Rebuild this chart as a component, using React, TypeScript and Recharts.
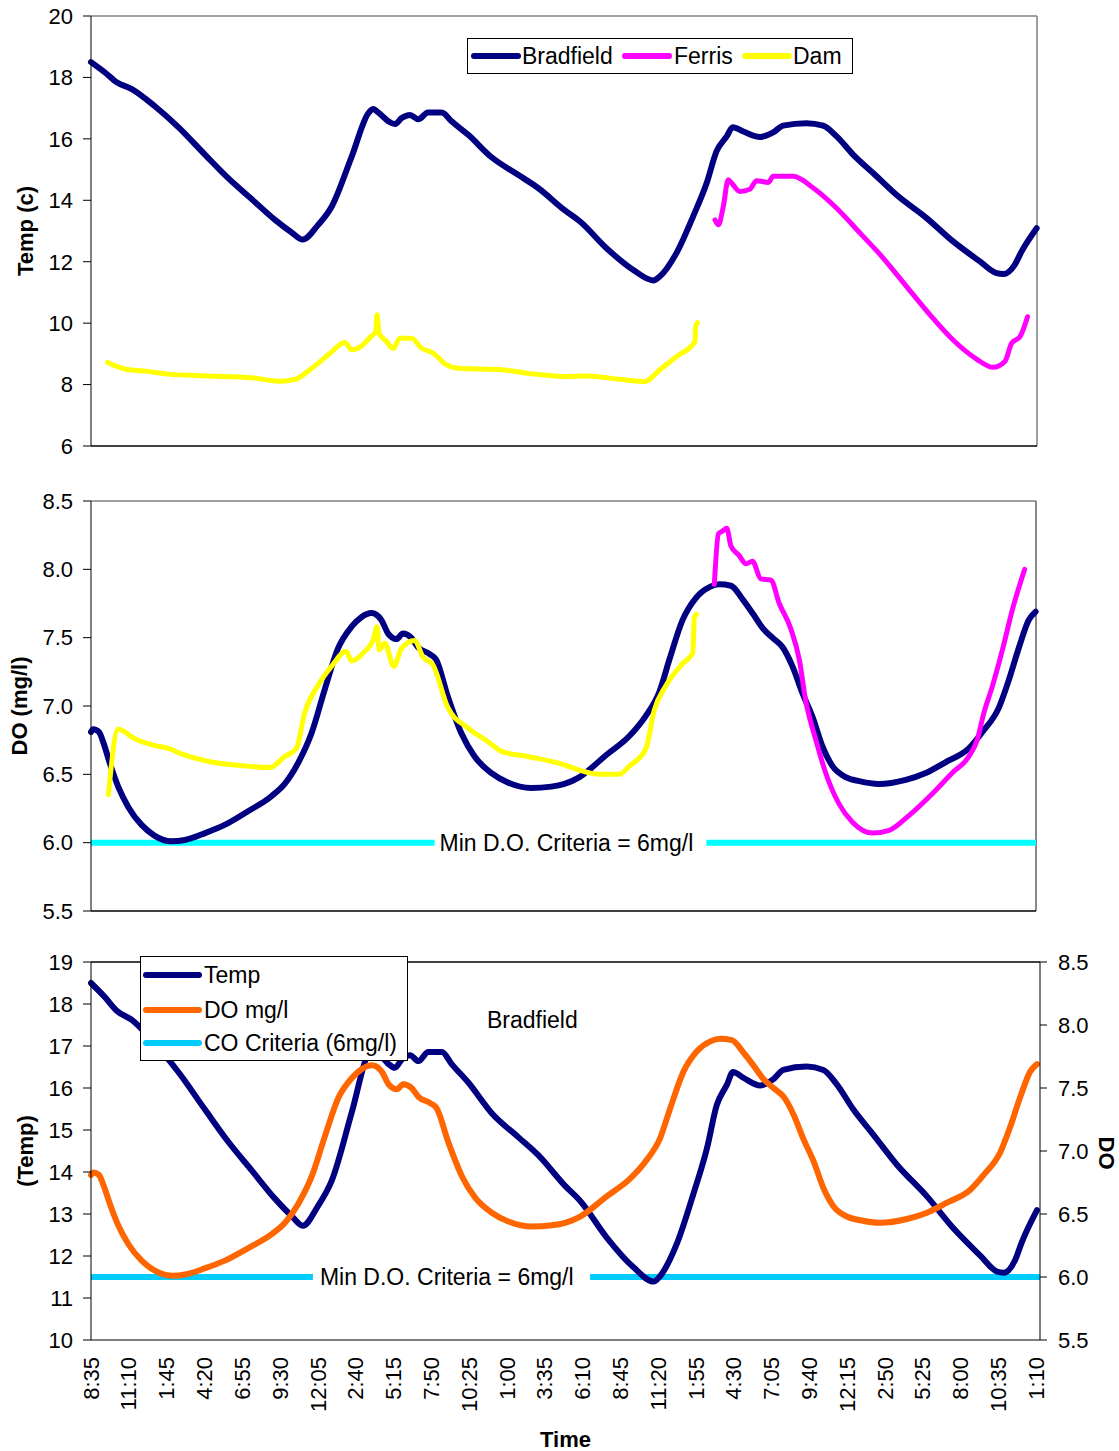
import React from "react"
import { LineChart, Line, XAxis, YAxis, ReferenceLine } from "recharts"

const FONT = '"Liberation Sans", Arial, sans-serif'

// x = number of 155-minute label steps after the first reading (8:35)
const timeLabels = [
  "8:35", "11:10", "1:45", "4:20", "6:55", "9:30", "12:05", "2:40", "5:15",
  "7:50", "10:25", "1:00", "3:35", "6:10", "8:45", "11:20", "1:55", "4:30",
  "7:05", "9:40", "12:15", "2:50", "5:25", "8:00", "10:35", "1:10",
]

const tempTicks = [6, 8, 10, 12, 14, 16, 18, 20]
const doTicks = [5.5, 6, 6.5, 7, 7.5, 8, 8.5]
const bradfieldTempTicks = [10, 11, 12, 13, 14, 15, 16, 17, 18, 19]
const minDO = 6

// temperature (c)
const bradfieldTemp: [number, number][] = [
  [0, 18.5], [0.37, 18.16], [0.68, 17.84], [1.08, 17.62], [1.69, 17.06],
  [2.31, 16.38], [3.02, 15.48], [3.63, 14.72], [4.25, 14.04], [4.87, 13.36],
  [5.31, 12.95], [5.6, 12.72], [6.01, 13.2], [6.37, 13.8], [6.9, 15.43],
  [7.34, 16.84], [7.47, 16.97], [7.6, 16.86], [7.87, 16.57], [8.04, 16.48],
  [8.22, 16.68], [8.44, 16.78], [8.66, 16.64], [8.92, 16.86], [9.28, 16.86],
  [9.54, 16.57], [9.98, 16.13], [10.6, 15.4], [11.3, 14.83], [11.83, 14.4],
  [12.54, 13.67], [12.94, 13.31], [13.64, 12.44], [14.35, 11.73], [14.88, 11.39],
  [15.05, 11.52], [15.49, 12.28], [15.93, 13.47], [16.29, 14.56], [16.55, 15.59],
  [16.82, 16.08], [16.98, 16.38], [17.26, 16.24], [17.7, 16.06], [18.05, 16.21],
  [18.31, 16.43], [18.93, 16.51], [19.37, 16.43], [19.73, 16.08], [20.17, 15.48],
  [20.7, 14.88], [21.31, 14.18], [22.11, 13.42], [22.81, 12.66], [23.52, 12.01],
  [23.96, 11.63], [24.14, 11.6], [24.44, 11.9], [24.62, 12.33], [25.02, 13.09],
]

const ferrisTemp: [number, number][] = [
  [16.51, 13.36], [16.6, 13.2], [16.73, 13.8], [16.86, 14.67], [16.95, 14.56],
  [17.17, 14.29], [17.43, 14.36], [17.61, 14.64], [17.92, 14.58], [18.05, 14.78],
  [18.58, 14.78], [19.11, 14.4], [19.73, 13.74], [20.35, 12.93], [20.96, 12.12],
  [21.58, 11.19], [22.2, 10.27], [22.81, 9.45], [23.43, 8.83], [23.87, 8.56],
  [24.18, 8.75], [24.36, 9.35], [24.58, 9.56], [24.78, 10.21],
]

const damTemp: [number, number][] = [
  [0.44, 8.72], [0.99, 8.48], [1.34, 8.45], [2.05, 8.34], [3.1, 8.28],
  [4.25, 8.22], [5.0, 8.11], [5.4, 8.17], [5.84, 8.53], [6.28, 8.97],
  [6.72, 9.37], [6.9, 9.13], [7.16, 9.26], [7.43, 9.59], [7.53, 9.69],
  [7.57, 10.27], [7.62, 9.69], [7.82, 9.4], [8.0, 9.18], [8.17, 9.51],
  [8.48, 9.51], [8.75, 9.18], [9.06, 9.02], [9.37, 8.67], [9.72, 8.53],
  [10.86, 8.48], [11.75, 8.34], [12.54, 8.26], [13.11, 8.28], [13.99, 8.17],
  [14.66, 8.1], [15.05, 8.48], [15.49, 8.91], [15.98, 9.4], [16.0, 9.89],
  [16.05, 10.02],
]

// dissolved oxygen (mg/l)
const bradfieldDO: [number, number][] = [
  [0, 6.81], [0.06, 6.83], [0.21, 6.81], [0.33, 6.73], [0.5, 6.58],
  [0.72, 6.41], [0.99, 6.26], [1.34, 6.13], [1.69, 6.05], [2.13, 6.01],
  [2.49, 6.02], [3.02, 6.07], [3.54, 6.13], [4.16, 6.23], [4.78, 6.34],
  [5.13, 6.43], [5.48, 6.58], [5.84, 6.8], [6.19, 7.12], [6.54, 7.42],
  [6.9, 7.58], [7.16, 7.65], [7.43, 7.68], [7.69, 7.63], [7.87, 7.53],
  [8.09, 7.49], [8.26, 7.53], [8.48, 7.5], [8.66, 7.43], [8.97, 7.38],
  [9.14, 7.34], [9.45, 7.07], [9.81, 6.8], [10.16, 6.63], [10.6, 6.51],
  [11.04, 6.44], [11.66, 6.4], [12.19, 6.41], [12.54, 6.43], [12.94, 6.48],
  [13.64, 6.64], [14.26, 6.78], [14.7, 6.93], [15.05, 7.1], [15.32, 7.34],
  [15.67, 7.63], [16.02, 7.79], [16.38, 7.87], [16.64, 7.89], [16.95, 7.88],
  [17.26, 7.78], [17.52, 7.68], [17.79, 7.57], [18.05, 7.5], [18.32, 7.43],
  [18.58, 7.29], [18.85, 7.09], [19.11, 6.92], [19.38, 6.7], [19.64, 6.56],
  [19.99, 6.48], [20.35, 6.45], [20.87, 6.43], [21.58, 6.46], [22.11, 6.51],
  [22.64, 6.59], [23.25, 6.69], [23.61, 6.81], [24.05, 6.99], [24.31, 7.19],
  [24.58, 7.43], [24.84, 7.63], [25.02, 7.69],
]

const ferrisDO: [number, number][] = [
  [16.51, 7.89], [16.62, 8.26], [16.73, 8.28], [16.84, 8.3], [16.95, 8.17],
  [17.17, 8.1], [17.35, 8.04], [17.52, 8.06], [17.74, 7.93], [18.01, 7.92],
  [18.23, 7.75], [18.53, 7.57], [18.76, 7.34], [18.93, 7.04], [19.2, 6.75],
  [19.46, 6.51], [19.82, 6.28], [20.17, 6.15], [20.7, 6.07], [21.14, 6.09],
  [21.67, 6.2], [22.29, 6.36], [22.81, 6.51], [23.25, 6.63], [23.47, 6.75],
  [23.65, 6.95], [23.87, 7.14], [24.14, 7.41], [24.4, 7.7], [24.73, 8.0],
]

const damDO: [number, number][] = [
  [0.46, 6.35], [0.72, 6.83], [1.16, 6.76], [1.69, 6.71], [2.05, 6.69],
  [2.4, 6.65], [3.19, 6.59], [4.16, 6.56], [4.74, 6.55], [5.13, 6.63],
  [5.44, 6.69], [5.66, 6.95], [6.01, 7.15], [6.37, 7.29], [6.76, 7.4],
  [6.9, 7.33], [7.25, 7.4], [7.47, 7.48], [7.58, 7.58], [7.63, 7.41],
  [7.78, 7.46], [8.02, 7.29], [8.22, 7.42], [8.57, 7.48], [8.79, 7.36],
  [9.06, 7.3], [9.45, 6.99], [9.98, 6.84], [10.51, 6.74], [10.86, 6.67],
  [11.57, 6.63], [12.54, 6.57], [12.94, 6.53], [13.47, 6.5], [13.99, 6.5],
  [14.26, 6.56], [14.7, 6.69], [14.92, 6.97], [15.23, 7.15], [15.67, 7.31],
  [15.94, 7.39], [15.98, 7.65], [16.04, 7.67],
]

const NAVY = "#000080"
const MAGENTA = "#FF00FF"
const YELLOW = "#FFFF00"
const ORANGE = "#FF6600"

const rows = (pts: [number, number][]) => pts.map(([t, v]) => ({ t, v }))

const tickStyle = { fill: "#000", fontSize: 22, fontFamily: FONT }

// rotated bold axis title; props named so Recharts' Label doesn't override them
const AxisTitle = (props: any) => {
  const { px, py, rot, text } = props
  return (
    <text
      x={px}
      y={py}
      transform={`rotate(${rot}, ${px}, ${py})`}
      textAnchor="middle"
      dominantBaseline="central"
      fontSize={22}
      fontWeight="bold"
      fontFamily={FONT}
      fill="#000"
    >
      {text}
    </text>
  )
}

const TimeTick = (props: any) => {
  const { x, y, payload } = props
  return (
    <text
      x={x}
      y={y}
      dy="0.35em"
      transform={`rotate(-90, ${x}, ${y})`}
      textAnchor="end"
      fontSize={22}
      fontFamily={FONT}
      fill="#000"
    >
      {timeLabels[payload.value]}
    </text>
  )
}

const criteriaLabel = (offset: number) => ({
  value: "Min D.O. Criteria = 6mg/l",
  position: "right" as const,
  offset,
  fill: "#000",
  fontSize: 23,
  fontFamily: FONT,
})

const lineProps = {
  type: "monotone" as const,
  dataKey: "v",
  dot: false,
  activeDot: false,
  isAnimationActive: false,
  strokeLinejoin: "round" as const,
  strokeLinecap: "round" as const,
}

const T_END = 25.03
const T_END_3 = 25.1

const TempChart = () => (
  <LineChart width={1119} height={470} margin={{ top: 16, right: 82, bottom: 24, left: 0 }}>
    <XAxis type="number" dataKey="t" domain={[0, T_END]} hide />
    <YAxis
      type="number"
      domain={[6, 20]}
      ticks={tempTicks}
      interval={0}
      width={91}
      tickSize={8}
      tickMargin={10}
      axisLine={{ stroke: "#000" }}
      tickLine={{ stroke: "#000" }}
      tick={tickStyle}
      label={<AxisTitle px={25} py={231} rot={-90} text="Temp (c)" />}
    />
    <ReferenceLine y={20} stroke="#808080" strokeWidth={1.5} />
    <ReferenceLine x={T_END} stroke="#808080" strokeWidth={1.5} />
    <ReferenceLine y={6} stroke="#000" strokeWidth={1.5} />
    <Line {...lineProps} data={rows(bradfieldTemp)} stroke={NAVY} strokeWidth={6} name="Bradfield" />
    <Line {...lineProps} data={rows(ferrisTemp)} stroke={MAGENTA} strokeWidth={5} name="Ferris" />
    <Line {...lineProps} data={rows(damTemp)} stroke={YELLOW} strokeWidth={5} name="Dam" />
  </LineChart>
)

const DOChart = () => (
  <LineChart width={1119} height={470} margin={{ top: 31, right: 83, bottom: 29, left: 0 }}>
    <XAxis type="number" dataKey="t" domain={[0, T_END]} hide />
    <YAxis
      type="number"
      domain={[5.5, 8.5]}
      ticks={doTicks}
      interval={0}
      width={91}
      tickSize={8}
      tickMargin={10}
      axisLine={{ stroke: "#000" }}
      tickLine={{ stroke: "#000" }}
      tick={tickStyle}
      tickFormatter={(v: number) => v.toFixed(1)}
      label={<AxisTitle px={19} py={236} rot={-90} text="DO (mg/l)" />}
    />
    <ReferenceLine y={8.5} stroke="#808080" strokeWidth={1.5} />
    <ReferenceLine x={T_END} stroke="#606060" strokeWidth={1.5} />
    <ReferenceLine y={5.5} stroke="#000" strokeWidth={1.5} />
    <ReferenceLine
      segment={[{ x: 0, y: minDO }, { x: 9.1, y: minDO }]}
      stroke="#00FFFF"
      strokeWidth={6}
      label={criteriaLabel(5)}
    />
    <ReferenceLine
      segment={[{ x: 16.3, y: minDO }, { x: T_END, y: minDO }]}
      stroke="#00FFFF"
      strokeWidth={6}
    />
    <Line {...lineProps} data={rows(bradfieldDO)} stroke={NAVY} strokeWidth={6} name="Bradfield" />
    <Line {...lineProps} data={rows(ferrisDO)} stroke={MAGENTA} strokeWidth={5} name="Ferris" />
    <Line {...lineProps} data={rows(damDO)} stroke={YELLOW} strokeWidth={5} name="Dam" />
  </LineChart>
)

const BradfieldChart = () => (
  <LineChart width={1119} height={531} margin={{ top: 42, right: 0, bottom: 0, left: 0 }}>
    <XAxis
      type="number"
      dataKey="t"
      domain={[0, T_END_3]}
      ticks={timeLabels.map((_, i) => i)}
      interval={0}
      height={111}
      tickLine={false}
      tickSize={0}
      tickMargin={17}
      axisLine={{ stroke: "#000" }}
      tick={<TimeTick />}
      label={{
        value: "Time",
        position: "insideBottom",
        offset: 4,
        fontSize: 22,
        fontWeight: "bold",
        fontFamily: FONT,
        fill: "#000",
      }}
    />
    <YAxis
      yAxisId="temp"
      type="number"
      domain={[10, 19]}
      ticks={bradfieldTempTicks}
      interval={0}
      width={91}
      tickSize={8}
      tickMargin={10}
      axisLine={{ stroke: "#000" }}
      tickLine={{ stroke: "#000" }}
      tick={tickStyle}
      label={<AxisTitle px={25} py={231} rot={-90} text="(Temp)" />}
    />
    <YAxis
      yAxisId="do"
      orientation="right"
      type="number"
      domain={[5.5, 8.5]}
      ticks={doTicks}
      interval={0}
      width={79}
      tickSize={7}
      tickMargin={11}
      axisLine={{ stroke: "#000" }}
      tickLine={{ stroke: "#000" }}
      tick={tickStyle}
      tickFormatter={(v: number) => v.toFixed(1)}
      label={<AxisTitle px={1106} py={233} rot={90} text="DO" />}
    />
    <ReferenceLine yAxisId="temp" y={19} stroke="#000" strokeWidth={1.5} />
    <ReferenceLine
      yAxisId="do"
      segment={[{ x: 0, y: minDO }, { x: 5.87, y: minDO }]}
      stroke="#00CCFF"
      strokeWidth={6}
      label={criteriaLabel(7)}
    />
    <ReferenceLine
      yAxisId="do"
      segment={[{ x: 13.2, y: minDO }, { x: T_END_3, y: minDO }]}
      stroke="#00CCFF"
      strokeWidth={6}
    />
    <Line {...lineProps} yAxisId="temp" data={rows(bradfieldTemp)} stroke={NAVY} strokeWidth={6} name="Temp" />
    <Line {...lineProps} yAxisId="do" data={rows(bradfieldDO)} stroke={ORANGE} strokeWidth={6} name="DO mg/l" />
  </LineChart>
)

type LegendItem = { label: string; color: string; x: number; textX: number; y: number }

const topLegend: LegendItem[] = [
  { label: "Bradfield", color: NAVY, x: 7, textX: 55, y: 18 },
  { label: "Ferris", color: MAGENTA, x: 158, textX: 207, y: 18 },
  { label: "Dam", color: YELLOW, x: 278, textX: 326, y: 18 },
]

const bottomLegend: LegendItem[] = [
  { label: "Temp", color: NAVY, x: 6, textX: 64, y: 19 },
  { label: "DO mg/l", color: ORANGE, x: 6, textX: 64, y: 54 },
  { label: "CO Criteria (6mg/l)", color: "#00CCFF", x: 6, textX: 64, y: 87 },
]

const LegendBox = ({ items, left, top, width, height, sample }: any) => (
  <svg
    width={width}
    height={height}
    style={{ position: "absolute", left, top }}
  >
    <rect x={0.5} y={0.5} width={width - 1} height={height - 1} fill="#fff" stroke="#000" />
    {items.map((it: LegendItem) => (
      <g key={it.label}>
        <line
          x1={it.x}
          x2={it.x + sample}
          y1={it.y}
          y2={it.y}
          stroke={it.color}
          strokeWidth={6}
          strokeLinecap="round"
        />
        <text
          x={it.textX}
          y={it.y}
          dominantBaseline="central"
          fontSize={23}
          fontFamily={FONT}
          fill="#000"
        >
          {it.label}
        </text>
      </g>
    ))}
  </svg>
)

export default function App() {
  return (
    <div
      style={{
        position: "absolute",
        left: 0,
        top: 0,
        width: 1119,
        height: 1451,
        background: "#fff",
      }}
    >
      <div style={{ position: "absolute", left: 0, top: 0 }}>
        <TempChart />
      </div>
      <div style={{ position: "absolute", left: 0, top: 470 }}>
        <DOChart />
      </div>
      <div style={{ position: "absolute", left: 0, top: 920 }}>
        <BradfieldChart />
      </div>
      <LegendBox items={topLegend} left={467} top={38} width={386} height={36} sample={44} />
      <LegendBox items={bottomLegend} left={140} top={956} width={268} height={105} sample={53} />
      <svg width={140} height={40} style={{ position: "absolute", left: 480, top: 1000 }}>
        <text x={7} y={20} dominantBaseline="central" fontSize={23} fontFamily={FONT} fill="#000">
          Bradfield
        </text>
      </svg>
    </div>
  )
}
